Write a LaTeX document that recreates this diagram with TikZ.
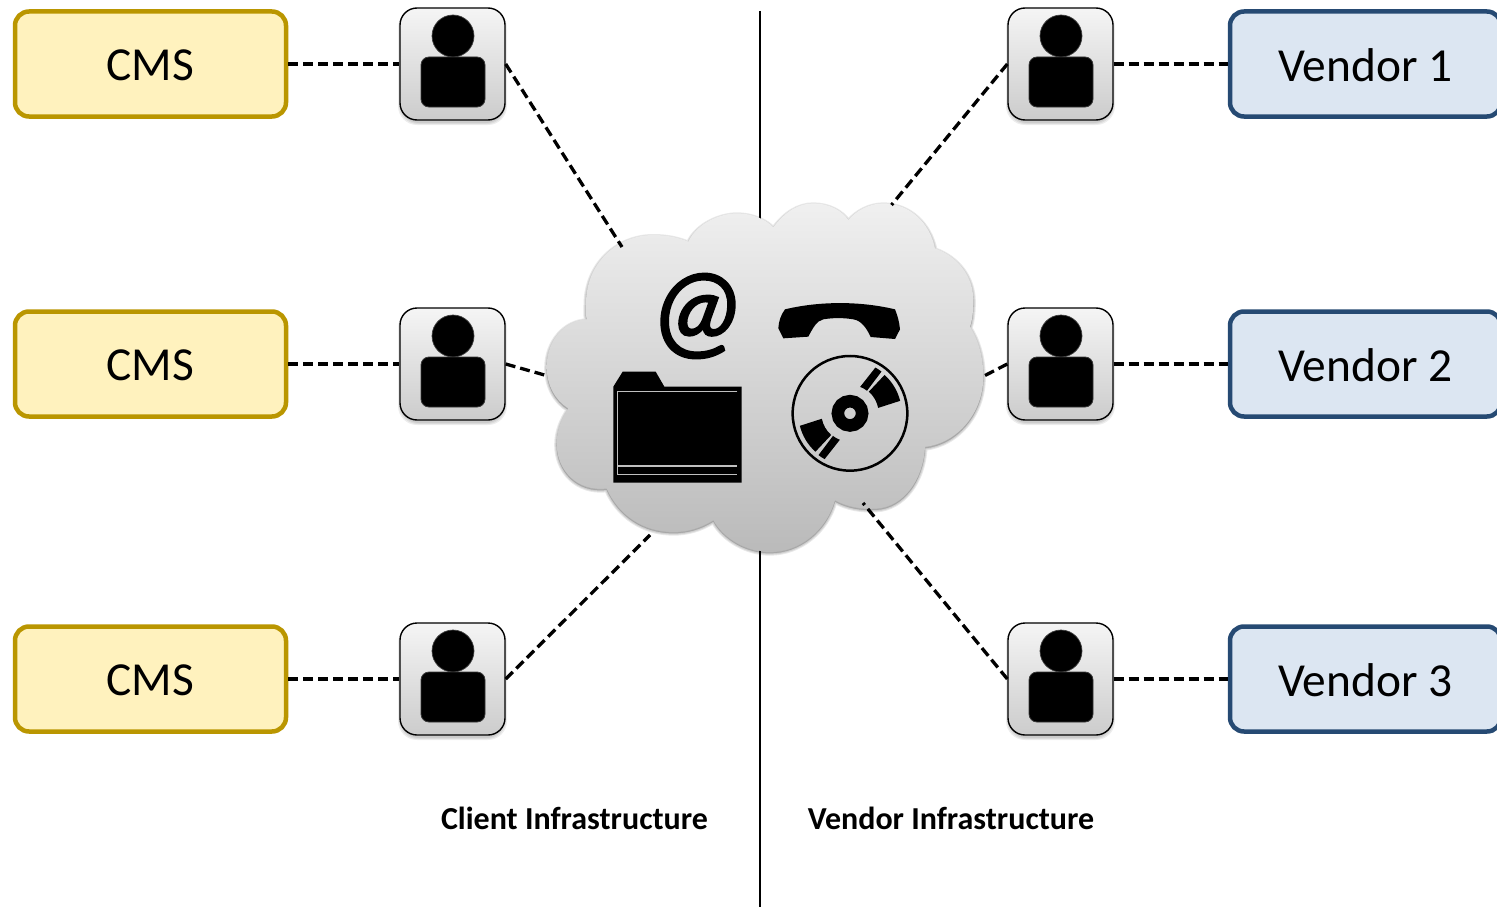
\documentclass[tikz,border=0pt]{standalone}
\usepackage{fontspec}
\setmainfont{Carlito}
\newfontfamily\atfont[ItalicFeatures={FakeBold=1.6}]{Carlito}
\newcommand{\cloudshape}{(445,155) .. controls (470,100) and (540,70) .. (590,70) .. controls (640,70) and (680,90) .. (700,112)
 .. controls (735,65) and (775,40) .. (820,40) .. controls (865,40) and (905,60) .. (925,90)
 .. controls (950,60) and (990,40) .. (1030,40) .. controls (1110,40) and (1170,100) .. (1185,175)
 .. controls (1255,200) and (1300,260) .. (1300,330) .. controls (1300,360) and (1298,385) .. (1290,410)
 .. controls (1315,450) and (1330,500) .. (1330,560) .. controls (1330,670) and (1250,760) .. (1155,770)
 .. controls (1150,870) and (1090,950) .. (1010,955) .. controls (965,958) and (920,950) .. (885,930)
 .. controls (860,1020) and (780,1085) .. (690,1085) .. controls (620,1085) and (550,1045) .. (520,990)
 .. controls (480,1015) and (440,1025) .. (400,1025) .. controls (310,1025) and (235,975) .. (200,895)
 .. controls (110,905) and (50,840) .. (50,760) .. controls (50,720) and (65,685) .. (85,655)
 .. controls (45,630) and (20,585) .. (20,530) .. controls (20,450) and (75,390) .. (140,388)
 .. controls (136,370) and (138,355) .. (138,340) .. controls (138,220) and (230,135) .. (340,135)
 .. controls (380,135) and (415,142) .. (445,155) -- cycle}
\newcommand{\lowered}[1]{\raisebox{-1.5pt}[\height][\depth]{#1}}
\definecolor{cmsfill}{HTML}{FFF2BE}
\definecolor{cmsline}{HTML}{BA9600}
\definecolor{venfill}{HTML}{DCE6F2}
\definecolor{venline}{HTML}{264A73}
\tikzset{
 boxbase/.style={rectangle,rounded corners=14pt,minimum width=271pt,minimum height=105pt,inner sep=0pt,line width=4.5pt,font=\fontsize{47.4}{50}\selectfont},
 cmsbox/.style={boxbase,draw=cmsline,fill=cmsfill},
 venbox/.style={boxbase,draw=venline,fill=venfill},
 tilebox/.style={rectangle,rounded corners=17pt,minimum width=105pt,minimum height=112pt,inner sep=0pt,draw=black,line width=1.4pt,top color=white!96!black,bottom color=black!20},
 tileshadow/.style={rectangle,rounded corners=19pt,inner sep=0pt,fill=black,opacity=.07},
 headnode/.style={circle,minimum size=42pt,inner sep=0pt,fill=black,draw=black!75,line width=.7pt},
 bodynode/.style={rectangle,rounded corners=8pt,minimum width=64pt,minimum height=50pt,inner sep=0pt,fill=black,draw=black!78,line width=.8pt},
 link/.style={line width=3.3pt,dash pattern=on 10pt off 5pt},
 divider/.style={line width=1.5pt,black},
 caption/.style={font=\bfseries\fontsize{32}{36}\selectfont},
 iconink/.style={fill=black,draw=none},
 foldline/.style={draw=black!25,line width=1.4pt},
}
\newcommand{\usertile}[3]{%
 \foreach \g in {0,2,4}{\node[tileshadow,minimum width=105pt+\g pt,minimum height=112pt+\g pt] at (#2,#3+3) {};}
 \node[tilebox] (#1) at (#2,#3) {};
 \node[headnode] (#1h) at (#2+.5,#3-28) {};
 \node[bodynode] (#1b) at (#2+.5,#3+18) {};
}
\begin{document}
\begin{tikzpicture}[x=1pt,y=-1pt]
\useasboundingbox (0,0) rectangle (1497,907);
\clip (0,0) rectangle (1497,907);
\fill[white] (0,0) rectangle (1497,907);
\coordinate (dtop) at (760,11);
\coordinate (dbot) at (760,907);
\draw[divider] (dtop) -- (dbot);

\node[cmsbox] (c1) at (150.5,64) {\lowered{CMS}};
\node[cmsbox] (c2) at (150.5,364) {\lowered{CMS}};
\node[cmsbox] (c3) at (150.5,679) {\lowered{CMS}};
\node[venbox] (v1) at (1365.5,64) {\lowered{Vendor 1}};
\node[venbox] (v2) at (1365.5,364) {\lowered{Vendor 2}};
\node[venbox] (v3) at (1365.5,679) {\lowered{Vendor 3}};

\coordinate (ea) at (622,247);
\coordinate (eb) at (548,376);
\coordinate (ec) at (650,535);
\coordinate (ed) at (891.5,205);
\coordinate (ee) at (984,376);
\coordinate (ef) at (863,503);

\usertile{t1}{452.5}{64}
\usertile{t2}{452.5}{364}
\usertile{t3}{452.5}{679}
\usertile{t4}{1060.5}{64}
\usertile{t5}{1060.5}{364}
\usertile{t6}{1060.5}{679}

\begin{scope}[shift={(540,190)},x=.33333pt,y=-.33333pt]
 \foreach \w in {5,3,1}{\draw[black,opacity=.09,line width=\w pt,fill=black,fill opacity=.05] [yshift=-1.5pt] \cloudshape;}
 \shade[top color=black!6,bottom color=black!27] \cloudshape;
 % folder
 \fill[iconink] (220,878) -- (220,590) -- (248,545) -- (347,545) -- (373,590) -- (605,590) -- (605,878) -- cycle;
 \draw[foldline] (592,604) -- (232,604) -- (232,854) -- (592,854);
 \draw[foldline] (232,828) -- (592,828);
 % phone
 \fill[iconink] (730,445) -- (715,415) .. controls (716,395) and (722,375) .. (735,358)
   .. controls (840,333) and (960,333) .. (1065,358) .. controls (1072,375) and (1078,395) .. (1080,418)
   -- (1065,447) -- (992,441) .. controls (980,415) and (965,392) .. (940,388)
   .. controls (910,383) and (880,383) .. (850,388) .. controls (830,392) and (818,415) .. (805,440) -- cycle;
 % disc
 \coordinate (dc) at (930,670);
 \draw[black,line width=2.5pt] (dc) circle[radius=172];
 \draw[black,line width=12.5pt] (dc) circle[radius=36.5];
 \foreach \r in {0,180}{
  \fill[iconink,shift={(dc)}] (-\r-11:87) -- (-\r-14:155) arc[start angle=-\r-14,end angle=-\r-48,radius=155] -- (-\r-49:86) arc[start angle=-\r-49,end angle=-\r-11,radius=86] -- cycle;
  \fill[iconink,shift={(dc)}] (-\r-53:84) -- (-\r-53:157) arc[start angle=-\r-53,end angle=-\r-61,radius=157] -- (-\r-69:85) arc[start angle=-\r-69,end angle=-\r-53,radius=85] -- cycle;
 }
\end{scope}
\node[inner sep=0pt,font=\atfont\itshape\fontsize{113}{120}\selectfont] (at) at (697,316) {@};

\draw[link] (c1.east) -- (t1.west);
\draw[link] (c2.east) -- (t2.west);
\draw[link] (c3.east) -- (t3.west);
\draw[link] (t4.east) -- (v1.west);
\draw[link] (t5.east) -- (v2.west);
\draw[link] (t6.east) -- (v3.west);
\draw[link] (t1.east) -- (ea);
\draw[link] (t2.east) -- (eb);
\draw[link] (t3.east) -- (ec);
\draw[link] (t4.west) -- (ed);
\draw[link] (t5.west) -- (ee);
\draw[link] (t6.west) -- (ef);

\node[caption,inner sep=0pt] (l1) at (574.5,818) {Client Infrastructure};
\node[caption,inner sep=0pt] (l2) at (951,818) {Vendor Infrastructure};
\end{tikzpicture}
\end{document}
